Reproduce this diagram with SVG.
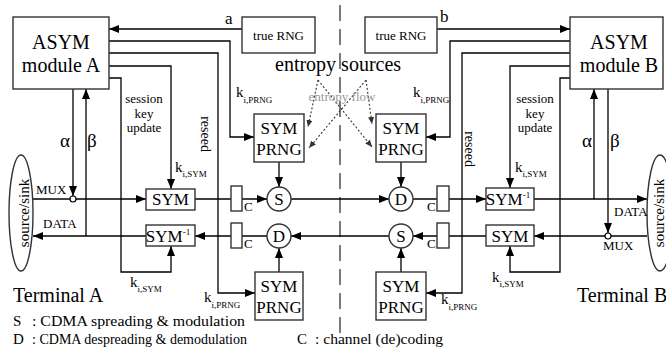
<svg xmlns="http://www.w3.org/2000/svg" width="666" height="349" viewBox="0 0 666 349" font-family="Liberation Serif, Times New Roman, serif">
<style>
.box{fill:#fff;stroke:#333;stroke-width:1.4}
.ln{fill:none;stroke:#000;stroke-width:1.3}
.dot{fill:none;stroke:#333;stroke-width:1.1;stroke-dasharray:2 2}
.dash{fill:none;stroke:#333;stroke-width:1.3;stroke-dasharray:16 8}
.t{font-family:'Liberation Serif',serif;fill:#000}
.big{font-size:20px}
.mid{font-size:17px;text-anchor:middle}
.sm{font-size:13px}
.k{font-size:15px}
.sub{font-size:9px}
</style>
<defs>
<marker id="ar" markerWidth="10" markerHeight="8" refX="10" refY="4" orient="auto" markerUnits="userSpaceOnUse">
<path d="M0,0 L10,4 L0,8 z" fill="#000"/>
</marker>
<marker id="ars" markerWidth="7" markerHeight="6" refX="7" refY="3" orient="auto" markerUnits="userSpaceOnUse">
<path d="M0,0 L7,3 L0,6 z" fill="#333"/>
</marker>
</defs>

<g id="connectors">
<line class="dash" x1="340" y1="5" x2="340" y2="336"/>
<line class="ln" x1="242" y1="29" x2="109" y2="29" marker-end="url(#ar)"/>
<line class="ln" x1="437" y1="29" x2="570" y2="29" marker-end="url(#ar)"/>
<polyline class="ln" points="109,41 230,41 230,137 254,137" marker-end="url(#ar)"/>
<polyline class="ln" points="109,53 218,53 218,293 255,293" marker-end="url(#ar)"/>
<polyline class="ln" points="109,66 171,66 171,189" marker-end="url(#ar)"/>
<polyline class="ln" points="109,78 121,78 121,272 171,272 171,246" marker-end="url(#ar)"/>
<polyline class="ln" points="570,41 450,41 450,137 426,137" marker-end="url(#ar)"/>
<polyline class="ln" points="570,53 462,53 462,293 426,293" marker-end="url(#ar)"/>
<polyline class="ln" points="570,66 510,66 510,188" marker-end="url(#ar)"/>
<polyline class="ln" points="570,78 560,78 560,272 510,272 510,246" marker-end="url(#ar)"/>
<line class="ln" x1="73" y1="89" x2="73" y2="196" marker-end="url(#ar)"/>
<line class="ln" x1="86" y1="236" x2="86" y2="89" marker-end="url(#ar)"/>
<line class="ln" x1="33" y1="199" x2="146" y2="199" marker-end="url(#ar)"/>
<line class="ln" x1="146" y1="236" x2="33" y2="236" marker-end="url(#ar)"/>
<line class="ln" x1="195" y1="199" x2="267" y2="199" marker-end="url(#ar)"/>
<line class="ln" x1="291" y1="199" x2="389" y2="199" marker-end="url(#ar)"/>
<line class="ln" x1="413" y1="199" x2="486" y2="199" marker-end="url(#ar)"/>
<line class="ln" x1="534" y1="199" x2="647" y2="199" marker-end="url(#ar)"/>
<line class="ln" x1="594" y1="199" x2="594" y2="89" marker-end="url(#ar)"/>
<line class="ln" x1="608" y1="89" x2="608" y2="233" marker-end="url(#ar)"/>
<line class="ln" x1="647" y1="236" x2="534" y2="236" marker-end="url(#ar)"/>
<line class="ln" x1="486" y1="236" x2="413" y2="236" marker-end="url(#ar)"/>
<line class="ln" x1="389" y1="236" x2="291" y2="236" marker-end="url(#ar)"/>
<line class="ln" x1="267" y1="236" x2="195" y2="236" marker-end="url(#ar)"/>
<line class="ln" x1="279" y1="162" x2="279" y2="187" marker-end="url(#ar)"/>
<line class="ln" x1="401" y1="162" x2="401" y2="187" marker-end="url(#ar)"/>
<line class="ln" x1="279" y1="272" x2="279" y2="248" marker-end="url(#ar)"/>
<line class="ln" x1="401" y1="272" x2="401" y2="248" marker-end="url(#ar)"/>
<line class="dot" x1="318" y1="80" x2="308" y2="127" marker-end="url(#ars)"/>
<line class="dot" x1="318" y1="80" x2="372" y2="147" marker-end="url(#ars)"/>
<line class="dot" x1="366" y1="80" x2="372" y2="124" marker-end="url(#ars)"/>
<line class="dot" x1="366" y1="80" x2="309" y2="148" marker-end="url(#ars)"/>
</g>

<g class="t">
<g id="asymA"><rect class="box" x="13" y="17" width="96" height="72"/>
<text class="big" x="61" y="49" text-anchor="middle">ASYM</text>
<text class="big" x="61" y="72" text-anchor="middle">module A</text></g>
<g id="asymB"><rect class="box" x="570" y="17" width="93" height="72"/>
<text class="big" x="619" y="49" text-anchor="middle">ASYM</text>
<text class="big" x="619" y="72" text-anchor="middle">module B</text></g>
<g id="rngA"><rect class="box" x="242" y="17" width="73" height="36"/>
<text class="sm" x="278.5" y="40" text-anchor="middle">true RNG</text></g>
<g id="rngB"><rect class="box" x="365" y="17" width="72" height="36"/>
<text class="sm" x="401" y="40" text-anchor="middle">true RNG</text></g>

<g id="prngA1"><rect class="box" x="254" y="114" width="50" height="48"/>
<text class="mid" x="279" y="134">SYM</text><text class="mid" x="279" y="155">PRNG</text></g>
<g id="prngB1"><rect class="box" x="376" y="114" width="50" height="48"/>
<text class="mid" x="401" y="134">SYM</text><text class="mid" x="401" y="155">PRNG</text></g>
<g id="prngA2"><rect class="box" x="255" y="272" width="48" height="48"/>
<text class="mid" x="279" y="292">SYM</text><text class="mid" x="279" y="313">PRNG</text></g>
<g id="prngB2"><rect class="box" x="376" y="272" width="50" height="48"/>
<text class="mid" x="401" y="292">SYM</text><text class="mid" x="401" y="313">PRNG</text></g>

<g id="symA"><rect class="box" x="146" y="189" width="49" height="21"/>
<text class="mid" x="170.5" y="205">SYM</text></g>
<g id="symInvA"><rect class="box" x="146" y="225" width="49" height="21"/>
<text x="168" y="242" font-size="17" text-anchor="middle">SYM<tspan font-size="9" dy="-7">-1</tspan></text></g>
<g id="symInvB"><rect class="box" x="486" y="188" width="48" height="22"/>
<text x="508" y="205" font-size="17" text-anchor="middle">SYM<tspan font-size="9" dy="-7">-1</tspan></text></g>
<g id="symB"><rect class="box" x="486" y="225" width="48" height="21"/>
<text class="mid" x="510" y="242">SYM</text></g>

<g id="cA1"><rect class="box" x="231" y="186" width="11" height="25"/><text class="sm" x="244" y="211">C</text></g>
<g id="cA2"><rect class="box" x="231" y="223" width="11" height="25"/><text class="sm" x="244" y="248">C</text></g>
<g id="cB1"><rect class="box" x="437" y="186" width="12" height="25"/><text class="sm" x="427" y="211">C</text></g>
<g id="cB2"><rect class="box" x="437" y="223" width="12" height="25"/><text class="sm" x="427" y="248">C</text></g>

<g id="sA"><circle class="box" cx="279" cy="199" r="12"/><text class="mid" x="279" y="205">S</text></g>
<g id="dA"><circle class="box" cx="279" cy="236" r="12"/><text class="mid" x="279" y="242">D</text></g>
<g id="dB"><circle class="box" cx="401" cy="199" r="12"/><text class="mid" x="401" y="205">D</text></g>
<g id="sB"><circle class="box" cx="401" cy="236" r="12"/><text class="mid" x="401" y="242">S</text></g>

<g id="muxA"><circle cx="73" cy="199" r="3" fill="#fff" stroke="#000" stroke-width="1.2"/></g>
<g id="muxB"><circle cx="608" cy="236" r="3" fill="#fff" stroke="#000" stroke-width="1.2"/></g>

<g id="srcA"><ellipse class="box" cx="21" cy="213" rx="12" ry="58"/>
<text font-size="15" text-anchor="middle" transform="translate(29,213) rotate(-90)">source/sink</text></g>
<g id="srcB"><ellipse class="box" cx="660" cy="213" rx="13" ry="58"/>
<text font-size="15" text-anchor="middle" transform="translate(664,213) rotate(-90)">source/sink</text></g>

<g id="labels">
<text x="225" y="24" font-size="17">a</text>
<text x="440" y="22" font-size="17">b</text>
<text class="big" x="275" y="71">entropy sources</text>
<text x="342" y="101" font-size="13" text-anchor="middle" style="fill:#999">entropy flow</text>
<text class="sm" x="144" y="103" text-anchor="middle">session</text>
<text class="sm" x="144" y="118" text-anchor="middle">key</text>
<text class="sm" x="144" y="132" text-anchor="middle">update</text>
<text class="sm" x="535" y="103" text-anchor="middle">session</text>
<text class="sm" x="535" y="118" text-anchor="middle">key</text>
<text class="sm" x="535" y="132" text-anchor="middle">update</text>
<text font-size="14" text-anchor="middle" transform="translate(201,134) rotate(90)">reseed</text>
<text font-size="14" text-anchor="middle" transform="translate(465,149) rotate(90)">reseed</text>
<text class="k" x="236" y="97">k<tspan class="sub" dy="6">i,PRNG</tspan></text>
<text class="k" x="413" y="97">k<tspan class="sub" dy="6">i,PRNG</tspan></text>
<text class="k" x="204" y="302">k<tspan class="sub" dy="6">i,PRNG</tspan></text>
<text class="k" x="441" y="304">k<tspan class="sub" dy="6">i,PRNG</tspan></text>
<text class="k" x="175" y="172">k<tspan class="sub" dy="5">i,SYM</tspan></text>
<text class="k" x="130" y="287">k<tspan class="sub" dy="5">i,SYM</tspan></text>
<text class="k" x="515" y="172">k<tspan class="sub" dy="5">i,SYM</tspan></text>
<text class="k" x="492" y="282">k<tspan class="sub" dy="5">i,SYM</tspan></text>
<text class="sm" x="36" y="194">MUX</text>
<text class="sm" x="43" y="228">DATA</text>
<text class="sm" x="603" y="250">MUX</text>
<text class="sm" x="614" y="216">DATA</text>
<text font-size="19" x="60" y="147">α</text>
<text font-size="19" x="87" y="147">β</text>
<text font-size="19" x="582" y="147">α</text>
<text font-size="19" x="610" y="147">β</text>
<text class="big" x="13" y="302">Terminal A</text>
<text class="big" x="577" y="302">Terminal B</text>
<text font-size="15" x="13" y="326">S</text>
<text font-size="15" x="32" y="326" textLength="213" lengthAdjust="spacingAndGlyphs">: CDMA spreading &amp; modulation</text>
<text font-size="15" x="13" y="344">D</text>
<text font-size="15" x="32" y="344" textLength="215" lengthAdjust="spacingAndGlyphs">: CDMA despreading &amp; demodulation</text>
<text font-size="15" x="297" y="344">C</text>
<text font-size="15" x="315" y="344" textLength="128" lengthAdjust="spacingAndGlyphs">: channel (de)coding</text>
</g>
</g>
</svg>
